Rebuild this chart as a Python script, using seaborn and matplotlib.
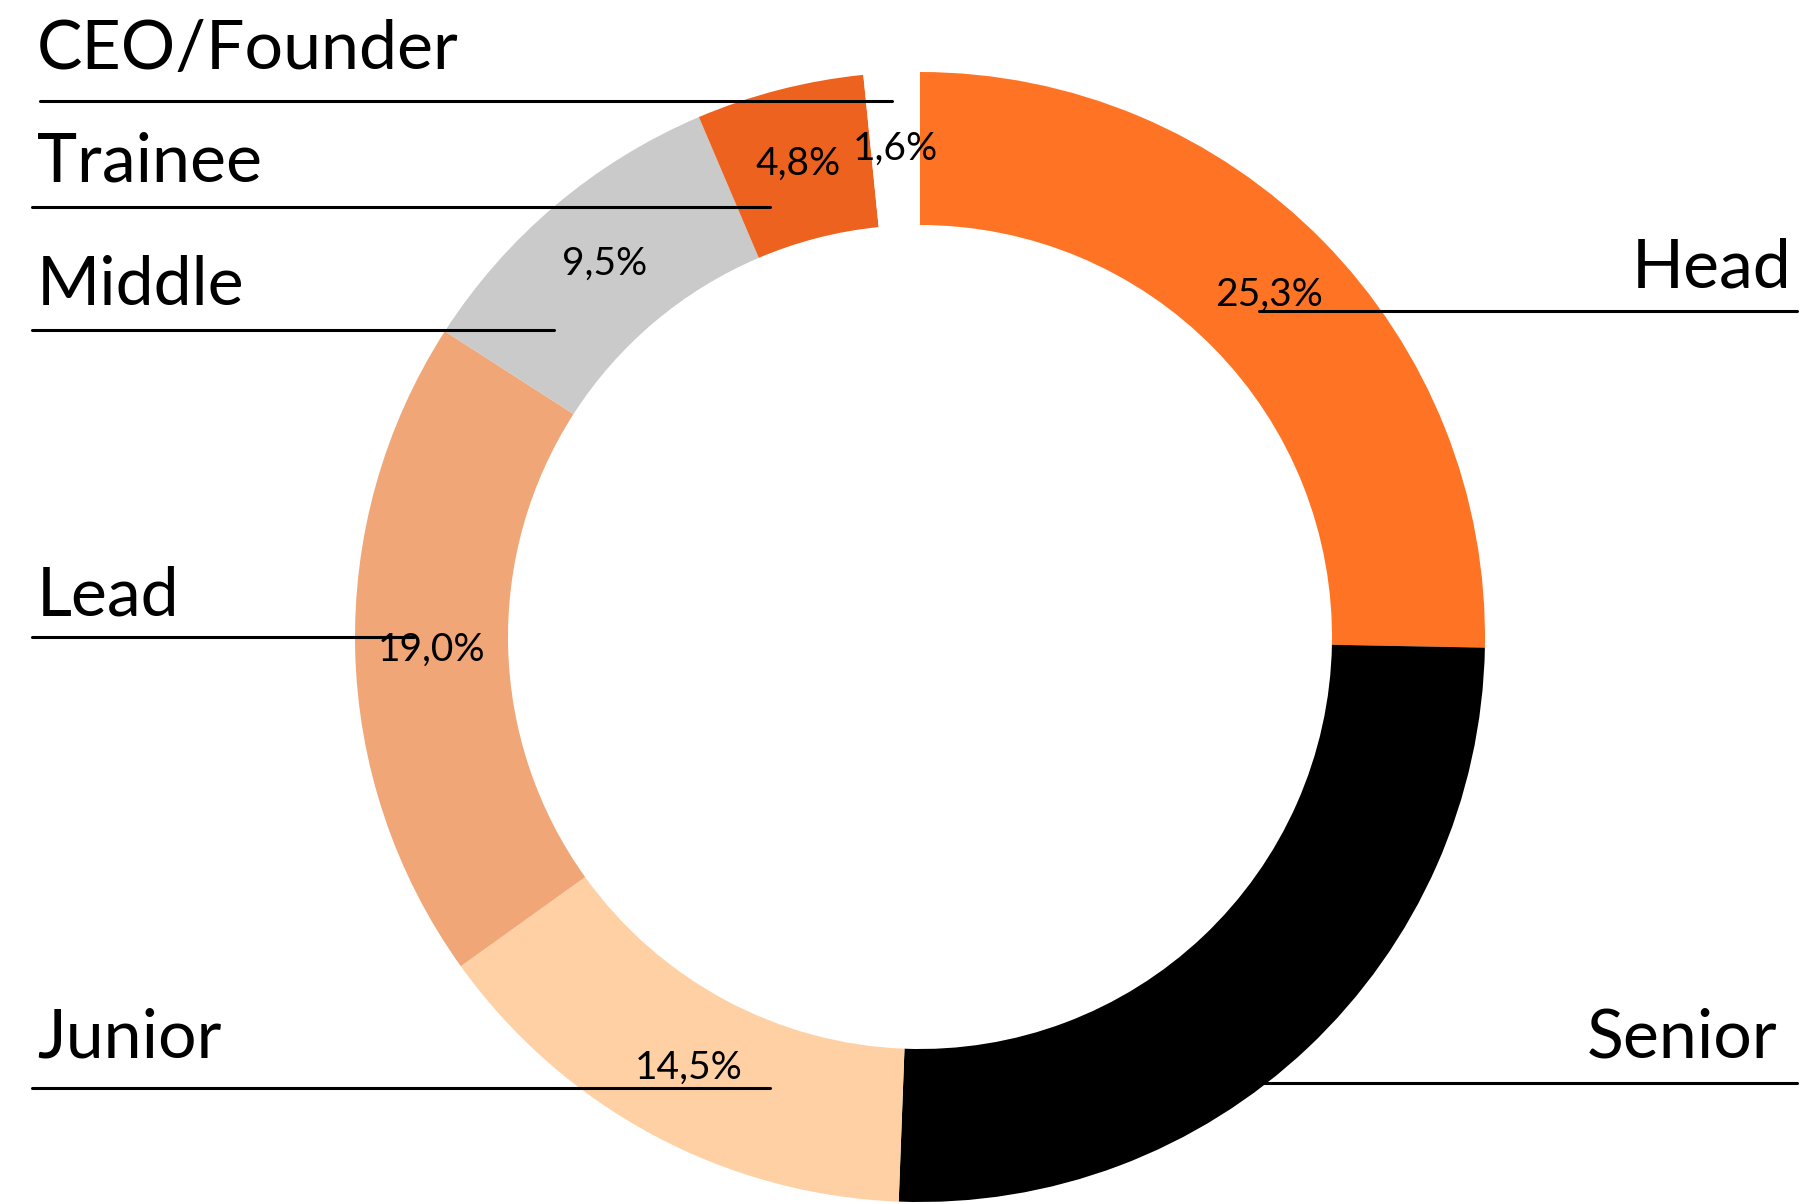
import matplotlib
matplotlib.use("Agg")
import matplotlib.pyplot as plt
import seaborn as sns

# data
levels = ["Head", "Senior", "Junior", "Lead", "Middle", "Trainee", "CEO/Founder"]
shares = [25.3, 25.3, 14.5, 19.0, 9.5, 4.8, 1.6]
colors = ["#FF7424", "#000000", "#FED0A4", "#F0A677", "#CACACA", "#EE621F", "#FFFFFF"]

# layout (pixels from the top-left corner of the figure)
W, H = 1803, 1204
CENTER = (920, 637)
RADIUS = 565
RING = 153
LABELS_LEFT = {
    "CEO/Founder": (37, 69, 101, 40, 892),
    "Trainee": (37, 182, 207, 32, 770),
    "Middle": (37, 305, 330, 32, 554),
    "Lead": (37, 615, 637, 32, 414),
    "Junior": (37, 1058, 1088, 32, 770),
}
LABELS_RIGHT = {
    "Head": (1792, 288, 311, 1259, 1797),
    "Senior": (1777, 1058, 1083, 1259, 1797),
}

sns.set_theme(style="white")
plt.rcParams["font.family"] = ["Lato", "DejaVu Sans"]
plt.rcParams["text.color"] = "black"

fig = plt.figure(figsize=(W / 100, H / 100), dpi=100)
ax = fig.add_axes([0, 0, 1, 1])


def fy(y):
    return H - y


wedges, texts, autotexts = ax.pie(
    shares,
    colors=colors,
    startangle=90,
    counterclock=False,
    center=(CENTER[0], fy(CENTER[1])),
    radius=RADIUS,
    wedgeprops={"width": RING, "linewidth": 0},
    autopct=lambda p: f"{p:.1f}%".replace(".", ","),
    pctdistance=0.865,
    textprops={"fontsize": 28, "color": "black", "fontweight": "normal"},
    frame=True,
)

for name, (tx, ty, ly, x0, x1) in LABELS_LEFT.items():
    ax.text(tx, fy(ty), name, ha="left", va="baseline", fontsize=49,
            color="black", fontweight="normal")
    ax.plot([x0, x1], [fy(ly), fy(ly)], color="black", lw=2.2, zorder=5)

for name, (tx, ty, ly, x0, x1) in LABELS_RIGHT.items():
    ax.text(tx, fy(ty), name, ha="right", va="baseline", fontsize=49,
            color="black", fontweight="normal")
    ax.plot([x0, x1], [fy(ly), fy(ly)], color="black", lw=2.2, zorder=5)

ax.set_xlim(0, W)
ax.set_ylim(0, H)
ax.set_aspect("equal")
ax.axis("off")

fig.savefig("out.png", dpi=100, facecolor="white")
plt.close()
